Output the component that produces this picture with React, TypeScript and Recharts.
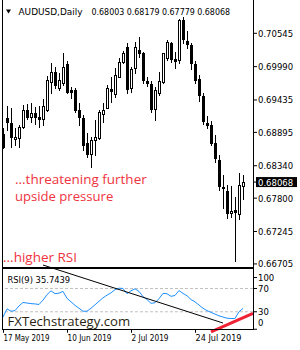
import React from 'react';
import { ComposedChart, Bar, Line, XAxis, YAxis, ReferenceLine } from 'recharts';

// AUDUSD daily, 17 May 2019 .. 9 Aug 2019
const opens = [0.68863, 0.6913, 0.69046, 0.68793, 0.68797, 0.6899, 0.69268, 0.69146, 0.69213, 0.69146, 0.69113, 0.69268, 0.69739, 0.69906, 0.69629, 0.69722, 0.70034, 0.69601, 0.69601, 0.69268, 0.6913, 0.68723, 0.68535, 0.68768, 0.68797, 0.69201, 0.69306, 0.69613, 0.69534, 0.69822, 0.70072, 0.70309, 0.69629, 0.69962, 0.70267, 0.70212, 0.69756, 0.69701, 0.6928, 0.69546, 0.69739, 0.70129, 0.70378, 0.70117, 0.701, 0.70766, 0.70422, 0.7035, 0.70034, 0.69779, 0.69501, 0.69056, 0.69018, 0.68723, 0.68435, 0.67991, 0.67919, 0.67548, 0.67603, 0.67536, 0.68003];
const highs = [0.68968, 0.69334, 0.69296, 0.68963, 0.69018, 0.69351, 0.69368, 0.6938, 0.69313, 0.69334, 0.69446, 0.69834, 0.70046, 0.69989, 0.69889, 0.70222, 0.70089, 0.69656, 0.69629, 0.69389, 0.69185, 0.6888, 0.68823, 0.69101, 0.69268, 0.6938, 0.69684, 0.69822, 0.69962, 0.70129, 0.70255, 0.70383, 0.69989, 0.70395, 0.70488, 0.70239, 0.69822, 0.69756, 0.69646, 0.69906, 0.70222, 0.70433, 0.70405, 0.70239, 0.70778, 0.70821, 0.70588, 0.70388, 0.70089, 0.69851, 0.69546, 0.69168, 0.69085, 0.68852, 0.68519, 0.68186, 0.68019, 0.68003, 0.67824, 0.68224, 0.68179];
const lows = [0.68635, 0.68935, 0.68657, 0.68685, 0.68647, 0.68963, 0.69113, 0.69073, 0.69035, 0.6898, 0.69018, 0.69256, 0.69546, 0.69629, 0.69601, 0.69684, 0.69546, 0.69463, 0.6924, 0.69018, 0.68602, 0.6849, 0.68314, 0.68519, 0.6878, 0.69073, 0.69296, 0.69406, 0.69489, 0.69812, 0.70046, 0.69551, 0.69573, 0.69879, 0.70155, 0.69722, 0.69668, 0.6924, 0.69101, 0.69518, 0.69722, 0.701, 0.70072, 0.69962, 0.70055, 0.70388, 0.70295, 0.69946, 0.69722, 0.69423, 0.69035, 0.68963, 0.68685, 0.68402, 0.67936, 0.67636, 0.67478, 0.67491, 0.66762, 0.67448, 0.67779];
const closes = [0.68647, 0.69073, 0.68823, 0.68813, 0.6899, 0.69268, 0.69146, 0.69223, 0.69156, 0.69113, 0.69334, 0.69767, 0.69906, 0.69684, 0.69767, 0.69989, 0.69573, 0.69573, 0.69268, 0.69156, 0.68685, 0.68535, 0.68768, 0.68823, 0.6924, 0.69268, 0.69629, 0.69589, 0.69851, 0.70072, 0.70222, 0.69618, 0.69946, 0.70312, 0.70222, 0.69767, 0.69722, 0.6928, 0.69601, 0.69756, 0.70212, 0.70395, 0.70112, 0.70084, 0.70766, 0.70445, 0.70367, 0.70046, 0.69767, 0.69518, 0.6909, 0.69018, 0.68723, 0.68464, 0.68003, 0.67964, 0.67558, 0.67586, 0.67575, 0.68019, 0.68068];
const rsi9 = [21, 35, 31, 32, 40, 46, 45, 44, 43.5, 42.5, 50, 59.5, 66, 61, 62, 65, 53, 47, 41, 36, 31, 31, 36, 42, 48, 54, 58.5, 62.5, 68, 70.5, 70, 61, 66, 69.5, 65, 56, 51, 44.5, 45.5, 52.5, 61.5, 61, 56.5, 58, 66.5, 61.5, 57.5, 51, 47, 41.5, 36, 32, 29, 26, 23, 21, 19, 18.5, 18.5, 30, 35.7439];

const priceTicks = [0.70545, 0.6999, 0.69435, 0.68895, 0.6834, 0.678, 0.67245, 0.66705];
const lastPrice = 0.68068;
const rsiTicks = [0, 30, 70];
const dateTickIdx = [0, 16, 32, 48];
const dateLabels = ['17 May 2019', '10 Jun 2019', '2 Jul 2019', '24 Jul 2019'];
const dateWidths = [46, 44, 37, 46];

// trendlines drawn on the RSI pane (bar index, RSI value)
const rsiTrend = [{ x: 10, y: 110.3 }, { x: 55, y: 10.7 }];
const rsiSupport = [{ x: 52, y: -4.7 }, { x: 62.5, y: 27.4 }];

const candles = opens.map((o, i) => ({ i, o, h: highs[i], l: lows[i], c: closes[i], range: [lows[i], highs[i]] }));
const rsiData = rsi9.map((v, i) => ({ i, rsi: v }));

const UI = '"DejaVu Sans", Tahoma, sans-serif';

const Candle = (props: any) => {
  const { x, y, width, height, payload } = props;
  const top = Math.min(y, y + height);
  const bot = Math.max(y, y + height);
  const { o, h, l, c } = payload;
  const k = (bot - top) / (h - l);
  const yo = top + (h - o) * k;
  const yc = top + (h - c) * k;
  const cx = Math.floor(x + width / 2 + 0.01) + 0.5;
  const bTop = Math.round(Math.min(yo, yc)) + 0.5;
  const bBot = Math.round(Math.max(yo, yc)) + 0.5;
  const bull = c >= o;
  return (
    <g>
      <line x1={cx} x2={cx} y1={Math.round(top)} y2={Math.round(bot) + 1} stroke="#000" strokeWidth={1} />
      <rect x={cx - 1} y={bTop} width={2} height={Math.max(bBot - bTop, 0)} fill={bull ? '#fff' : '#000'} stroke="#000" strokeWidth={1} />
    </g>
  );
};

const PriceTick = (props: any) => {
  const { x, y, payload } = props;
  const v = payload.value;
  if (Math.abs(v - lastPrice) < 1e-7) {
    return (
      <g>
        <rect x={x - 2} y={y - 5} width={41} height={10} fill="#000" />
        <text x={x} y={y + 3.5} fontSize={8.5} fontFamily={UI} fill="#fff">{v.toFixed(5)}</text>
      </g>
    );
  }
  return <text x={x} y={y + 3.5} fontSize={8.5} fontFamily={UI} fill="#000">{v.toFixed(5)}</text>;
};

const RsiTick = (props: any) => {
  const { x, y, payload } = props;
  const v = Math.round(payload.value);
  const dy = v === 0 ? -6.5 : 0;
  return <text x={x} y={y + dy + 3.5} fontSize={8.5} fontFamily={UI} fill="#000">{v}</text>;
};

const DateTick = (props: any) => {
  const { x, y, payload } = props;
  const k = dateTickIdx.indexOf(payload.value);
  const px = Math.floor(x + 0.01) + 0.5;
  return (
    <g>
      <line x1={px} x2={px} y1={y} y2={y + 3.5} stroke="#000" />
      <text x={px} y={y + 11.75} fontSize={8.5} fontFamily={UI} fill="#000" textLength={dateWidths[k]} lengthAdjust="spacingAndGlyphs">
        {dateLabels[k]}
      </text>
    </g>
  );
};

export default function App() {
  return (
    <div style={{ position: 'relative', width: 300, height: 350, background: '#fff', overflow: 'hidden' }}>
      <style>{'body{margin:0}'}</style>

      <div style={{ position: 'absolute', left: 0, top: 0 }}>
        <ComposedChart width={300} height={268} data={candles} margin={{ top: 0, right: 0, bottom: 1, left: 1 }}>
          <XAxis dataKey="i" type="category" hide padding={{ left: 0, right: 8 }} />
          <YAxis
            orientation="right"
            type="number"
            domain={[0.666539, 0.710994]}
            allowDataOverflow
            ticks={[...priceTicks, lastPrice]}
            interval={0}
            width={47}
            axisLine={false}
            tickLine={{ stroke: '#000' }}
            tickSize={4}
            tickMargin={1}
            tick={<PriceTick />}
          />
          <Bar dataKey="range" barSize={3} shape={<Candle />} isAnimationActive={false} />
        </ComposedChart>
      </div>

      <div style={{ position: 'absolute', left: 0, top: 250 }}>
        <ComposedChart width={300} height={100} data={rsiData} margin={{ top: 21, right: 0, bottom: 0, left: 2 }}>
          <XAxis
            dataKey="i"
            type="number"
            domain={[-0.25, 62.5]}
            allowDataOverflow
            ticks={dateTickIdx}
            interval={0}
            height={20.75}
            axisLine={false}
            tickLine={false}
            tickSize={0}
            tickMargin={0}
            tick={<DateTick />}
          />
          <YAxis
            orientation="right"
            type="number"
            domain={[0, 100]}
            allowDataOverflow
            ticks={rsiTicks}
            interval={0}
            width={47}
            axisLine={false}
            tickLine={{ stroke: '#000' }}
            tickSize={4}
            tickMargin={1}
            tick={<RsiTick />}
          />
          <ReferenceLine y={70} stroke="#C0C0C0" strokeDasharray="3 2" />
          <ReferenceLine y={30} stroke="#C0C0C0" strokeDasharray="3 2" />
          <Line dataKey="rsi" type="linear" stroke="#1E90FF" strokeWidth={1} dot={false} isAnimationActive={false} />
          <ReferenceLine segment={rsiTrend} stroke="#000" strokeWidth={1} ifOverflow="visible" />
          <ReferenceLine segment={rsiSupport} stroke="#EE2233" strokeWidth={3} ifOverflow="visible" />
        </ComposedChart>
      </div>

      <svg width={300} height={350} style={{ position: 'absolute', left: 0, top: 0, pointerEvents: 'none' }}>
        {/* pane frames */}
        <line x1={2.5} x2={2.5} y1={0} y2={330} stroke="#000" />
        <line x1={253.5} x2={253.5} y1={0} y2={330} stroke="#000" />
        <line x1={2} x2={254} y1={267.5} y2={267.5} stroke="#000" />
        <line x1={2} x2={254} y1={268.5} y2={268.5} stroke="#000" />
        <line x1={2} x2={254} y1={329.5} y2={329.5} stroke="#000" />

        <polygon points="6,9.5 11,9.5 8.5,13.5" fill="#000" />
        <text x={18.5} y={15} fontSize={8.5} fontFamily={UI} fill="#000" textLength={64} lengthAdjust="spacingAndGlyphs">AUDUSD,Daily</text>
        <text x={91.5} y={15} fontSize={8.5} fontFamily={UI} fill="#000" textLength={138.5} lengthAdjust="spacingAndGlyphs">0.68003 0.68179 0.67779 0.68068</text>

        <g fontFamily='"Open Sans", "Noto Sans", sans-serif' fontSize={13} fill="#EF3340">
          <text x={15} y={184} textLength={131.7} lengthAdjust="spacingAndGlyphs">...threatening further</text>
          <text x={15} y={201} textLength={98.3} lengthAdjust="spacingAndGlyphs">upside pressure</text>
          <text x={3} y={262} textLength={74} lengthAdjust="spacingAndGlyphs">...higher RSI</text>
        </g>

        <text x={7.5} y={283} fontSize={8.5} fontFamily={UI} fill="#000" textLength={62.7} lengthAdjust="spacingAndGlyphs">RSI(9) 35.7439</text>
        <text x={7.5} y={325.7} fontSize={13} fontFamily='"Open Sans", "Noto Sans", sans-serif' fill="#2a1f0f" textLength={122.7} lengthAdjust="spacingAndGlyphs">FXTechstrategy.com</text>

        {/* top level label of the RSI pane */}
        <line x1={254} x2={257} y1={277.5} y2={277.5} stroke="#000" />
        <text x={258} y={281} fontSize={8.5} fontFamily={UI} fill="#000" stroke="none">100</text>
      </svg>
    </div>
  );
}
